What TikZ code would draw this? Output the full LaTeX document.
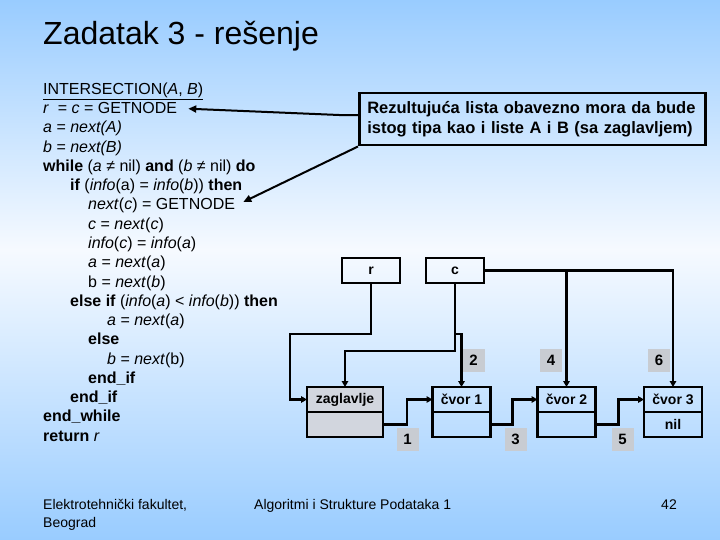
\documentclass[tikz,border=0pt]{standalone}
\usepackage{fontspec}
\setmainfont{Liberation Sans}
\usepackage{tikz}
\usetikzlibrary{arrows.meta}
\usetikzlibrary{positioning}

\definecolor{slideblue}{RGB}{153,204,255}
\definecolor{slidemid}{RGB}{246,250,255}
\definecolor{headgray}{RGB}{210,214,222}
\definecolor{numgray}{RGB}{200,204,210}

\tikzset{code/.style={anchor=base west, inner sep=0pt,
         font=\fontsize{16}{19}\selectfont},
         foot/.style={anchor=base west, inner sep=0pt,
         font=\fontsize{14}{17}\selectfont},
         cell/.style={draw, line width=2.5pt, minimum width=58pt,
         minimum height=25pt, inner sep=0pt, outer sep=0pt,
         font=\fontsize{14}{16}\selectfont\bfseries},
         num/.style={fill=numgray, minimum width=22pt, minimum height=23pt,
         inner sep=0pt, font=\fontsize{15}{17}\selectfont\bfseries},
         link/.style={line width=2.5pt, -{Triangle[length=6pt,width=6.5pt]}},
         hint/.style={line width=2pt, -{Triangle[length=8pt,width=7pt]}}}

\begin{document}
\begin{tikzpicture}[x=1pt,y=-1pt]
        \useasboundingbox (0,0) rectangle (720,540);
        \fill[top color=slideblue, bottom color=slidemid] (0,0) rectangle (720,250);
        \fill[top color=slidemid, bottom color=slideblue] (0,250) rectangle (720,540);
        
        % Title
        \node[anchor=base west, inner sep=0pt, font=\fontsize{32}{38}\selectfont] (title) at (43,45) {Zadatak 3 - rešenje};
        
        % Algorithm
        \node[code] (l1) at (43,94.5) {\underline{INTERSECTION(\textit{A}, \textit{B})}};
        \node[code] (l2) at (43,113.75) {\textit{r}~ = \textit{c} = GETNODE};
        \node[code] (l3) at (43,133) {\textit{a} = \textit{next(A)}};
        \node[code] (l4) at (43,152.25) {\textit{b} = \textit{next(B)}};
        \node[code] (l5) at (43,171.5) {\textbf{while} (\textit{a} ≠ nil) \textbf{and} (\textit{b} ≠ nil) \textbf{do}};
        \node[code] (l6) at (70,190.75) {\textbf{if} (\textit{info}(a) = \textit{info}(\textit{b})) \textbf{then}};
        \node[code] (l7) at (88,210) {\textit{next}(\textit{c}) = GETNODE};
        \node[code] (l8) at (88,229.25) {\textit{c} = \textit{next}(\textit{c})};
        \node[code] (l9) at (88,248.5) {\textit{info}(\textit{c}) = \textit{info}(\textit{a})};
        \node[code] (l10) at (88,267.75) {\textit{a} = \textit{next}(\textit{a})};
        \node[code] (l11) at (88,287) {b = \textit{next}(\textit{b})};
        \node[code] (l12) at (70,306.25) {\textbf{else if} (\textit{info}(\textit{a}) < \textit{info}(\textit{b})) \textbf{then}};
        \node[code] (l13) at (107,325.5) {\textit{a} = \textit{next}(\textit{a})};
        \node[code] (l14) at (88,344.75) {\textbf{else}};
        \node[code] (l15) at (107,364) {\textit{b} = \textit{next}(b)};
        \node[code] (l16) at (88,383.25) {\textbf{end\_if}};
        \node[code] (l17) at (70,402.5) {\textbf{end\_if}};
        \node[code] (l18) at (43,421.75) {\textbf{end\_while}};
        \node[code] (l19) at (43,441) {\textbf{return} \textit{r}};
        
        % Remark
        \node[draw, line width=2.5pt, anchor=north west, text width=330pt, inner xsep=8pt,
              minimum height=52pt, align=left, font=\fontsize{16.5}{19.5}\selectfont\bfseries]
              (note) at (358,92) {Rezultujuća lista obavezno mora da bude\\istog tipa kao i liste A i B (sa zaglavljem)};
        \draw[hint, shorten >=11pt] ([yshift=4pt]note.west) -- ++(-13,0) -- (l2.east);
        \draw[hint, shorten >=9pt] (note.south west) -- (l7.east);
        
        % Step numbers
        \node[num] (n1) at (407.5,439) {1};
        \node[num] (n2) at (473.5,360) {2};
        \node[num] (n3) at (515.5,439) {3};
        \node[num] (n4) at (551,360) {4};
        \node[num] (n5) at (622.5,439) {5};
        \node[num] (n6) at (659,360) {6};
        
        % Pointers
        \node[cell] (r) at (371,270.5) {r};
        \node[cell] (c) at (455,270.5) {c};
        
        % List
        \node[cell, fill=headgray, minimum width=76pt] (zag) at (345,399.5) {zaglavlje};
        \node[cell, fill=headgray, minimum width=76pt, below=0pt of zag] (zagb) {};
        \node[cell] (k1) at (461.5,399.5) {čvor 1};
        \node[cell, below=0pt of k1] (k1b) {};
        \node[cell] (k2) at (566.5,399.5) {čvor 2};
        \node[cell, below=0pt of k2] (k2b) {};
        \node[cell] (k3) at (673,399.5) {čvor 3};
        \node[cell, below=0pt of k3] (k3b) {nil};
        
        \draw[link] (r.south) |- (290,334) |- (zag.west);
        \draw[link] (c.south) -- (455,351) -| (zag.north);
        \coordinate (cfork) at (455,334);
        \draw[link] (cfork) -| (k1.north);
        \draw[link] (c.east) -| (k3.north);
        \draw[link] (c.east -| k2.north) -- (k2.north);
        
        \draw[link] (zagb.east) -- ++(24,0) |- (k1.west);
        \draw[link] (k1b.east) -- ++(22,0) |- (k2.west);
        \draw[link] (k2b.east) -- ++(23,0) |- (k3.west);
        
        % Footer
        \node[foot] (inst) at (43,509) {Elektrotehnički fakultet,};
        \node[foot] (city) at (43,527) {Beograd};
        \node[foot] (course) at (254,509) {Algoritmi i Strukture Podataka 1};
        \node[foot, anchor=base] (page) at (669,509) {42};
        
    \end{tikzpicture}
\end{document}
